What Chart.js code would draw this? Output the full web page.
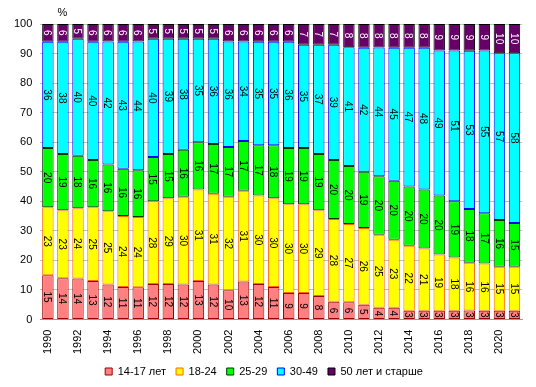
<!DOCTYPE html>
<html>
<head>
<meta charset="utf-8">
<script src="https://cdn.jsdelivr.net/npm/chart.js@4/dist/chart.umd.min.js"></script>
<style>
  html, body { margin: 0; padding: 0; background: #fff; }
  #wrap { width: 536px; height: 387px; }
</style>
</head>
<body>
<div id="wrap"><canvas id="chart"></canvas></div>
<script>
const years = [];
for (let y = 1990; y <= 2021; y++) years.push(String(y));

const age14_17 = [15, 14, 14, 13, 12, 11, 11, 12, 12, 12, 13, 12, 10, 13, 12, 11, 9, 9, 8, 6, 6, 5, 4, 4, 3, 3, 3, 3, 3, 3, 3, 3];
const age18_24 = [23, 23, 24, 25, 25, 24, 24, 28, 29, 30, 31, 31, 32, 31, 30, 30, 30, 30, 29, 28, 27, 26, 25, 23, 22, 21, 19, 18, 16, 16, 15, 15];
const age25_29 = [20, 19, 18, 16, 16, 16, 16, 15, 15, 16, 16, 17, 17, 17, 17, 18, 19, 19, 19, 20, 20, 19, 20, 20, 20, 20, 20, 19, 18, 17, 16, 15];
const age30_49 = [36, 38, 40, 40, 42, 43, 44, 40, 39, 38, 35, 36, 36, 34, 35, 35, 36, 35, 37, 39, 41, 42, 44, 45, 47, 48, 49, 51, 53, 55, 57, 58];
const age50up  = [6, 6, 5, 6, 6, 6, 6, 5, 5, 5, 5, 5, 6, 6, 6, 6, 6, 7, 7, 7, 8, 8, 8, 8, 8, 8, 9, 9, 9, 9, 10, 10];

const yTicks = [0, 10, 20, 30, 40, 50, 60, 70, 80, 90, 100];

const series = [age14_17, age18_24, age25_29, age30_49, age50up];
// нормированная диаграмма (100%), как в Excel
const totals = years.map((_, j) => series.reduce((s, arr) => s + arr[j], 0));
const share = arr => arr.map((v, j) => v / totals[j] * 100);

// подписи значений внутри столбиков, повернуты на 90 градусов
const barLabels = {
  id: 'barLabels',
  afterDatasetsDraw(chart) {
    const ctx = chart.ctx;
    const area = chart.chartArea;
    ctx.save();
    ctx.font = '10px "Liberation Sans", Arial, sans-serif';
    ctx.textAlign = 'center';
    ctx.textBaseline = 'middle';
    chart.data.datasets.forEach((ds, i) => {
      const meta = chart.getDatasetMeta(i);
      meta.data.forEach((bar, j) => {
        const top = Math.max(bar.y, area.top);
        const bottom = Math.min(bar.base, area.bottom);
        ctx.save();
        ctx.translate(bar.x, (top + bottom) / 2);
        ctx.rotate(Math.PI / 2);
        ctx.fillStyle = i === 4 ? '#ffffff' : '#000000';
        ctx.fillText(String(series[i][j]), 0, 1);
        ctx.restore();
      });
    });
    // знак процента над осью
    ctx.font = '11px "Liberation Sans", Arial, sans-serif';
    ctx.fillStyle = '#000';
    ctx.fillText('%', area.left + 22, area.top - 11);
    ctx.restore();
  }
};

function makeSet(label, data, bg, border) {
  return {
    label: label,
    data: share(data),
    backgroundColor: bg,
    borderColor: border,
    borderWidth: 1,
    borderSkipped: false,
    barPercentage: 0.76,
    categoryPercentage: 1.0
  };
}

new Chart(document.getElementById('chart'), {
  type: 'bar',
  data: {
    labels: years,
    datasets: [
      makeSet('14-17 лет', age14_17, '#FF8080', '#990000'),
      makeSet('18-24', age18_24, '#FFFF00', '#FF6600'),
      makeSet('25-29', age25_29, '#00FF00', '#003300'),
      makeSet('30-49', age30_49, '#00FFFF', '#0000FF'),
      makeSet('50 лет и старше', age50up, '#660066', '#000000')
    ]
  },
  options: {
    responsive: true,
    maintainAspectRatio: false,
    animation: false,
    layout: { padding: { top: 24, right: 14, left: 6, bottom: 0 } },
    scales: {
      x: {
        stacked: true,
        grid: { display: false },
        border: { color: '#999999' },
        ticks: {
          autoSkip: false,
          maxRotation: 90,
          minRotation: 90,
          padding: 2,
          color: '#000',
          font: { size: 11, family: '"Liberation Sans", Arial, sans-serif' },
          callback: function(value, index) {
            return index % 2 === 0 ? this.getLabelForValue(value) : '';
          }
        }
      },
      y: {
        stacked: true,
        min: 0,
        max: 100,
        afterBuildTicks: axis => { axis.ticks = yTicks.map(v => ({ value: v })); },
        grid: { color: '#C0C0C0', drawTicks: false },
        border: { display: false },
        ticks: {
          padding: 8,
          color: '#000',
          font: { size: 11, family: '"Liberation Sans", Arial, sans-serif' }
        }
      }
    },
    plugins: {
      legend: {
        display: true,
        position: 'bottom',
        labels: {
          boxWidth: 7,
          boxHeight: 7,
          padding: 10,
          color: '#000',
          font: { size: 11, family: '"Liberation Sans", Arial, sans-serif' }
        }
      },
      tooltip: { enabled: false }
    }
  },
  plugins: [barLabels]
});
</script>
</body>
</html>
